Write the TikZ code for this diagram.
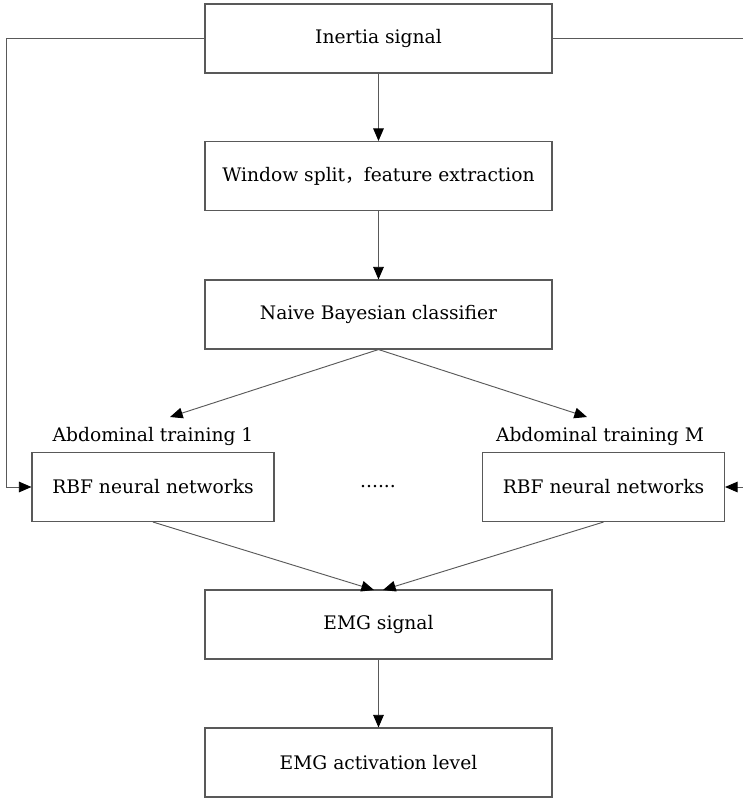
\documentclass[tikz,border=0pt]{standalone}
\usepackage{fontspec}
\setmainfont{DejaVu Serif}
\newfontfamily\cjk{Noto Sans CJK SC}
\usetikzlibrary{arrows.meta}
\begin{document}
\begin{tikzpicture}[x=0.75pt,y=-0.75pt,
  box/.style={draw=black!65,line width=0.8pt,minimum width=347*0.75pt,minimum height=69*0.75pt,inner sep=0pt,font=\fontsize{14}{16}\selectfont},
  sbox/.style={box,minimum width=242*0.75pt},
  lab/.style={font=\fontsize{14}{16}\selectfont,inner sep=0pt},
  conn/.style={draw=black!65,line width=0.7pt,-{Triangle[length=9.5pt,width=8pt,color=black]}},
  plain/.style={draw=black!65,line width=0.7pt}]
\useasboundingbox (0,0) rectangle (742,799);
\node[box] (inertia) at (378.5,38.5) {Inertia signal};
\node[box] (window) at (378.5,176) {Window split{\cjk ，}feature extraction};
\node[box] (bayes) at (378.5,314.5) {Naive Bayesian classifier};
\node[sbox] (rbf1) at (153,487) {RBF neural networks};
\node[sbox] (rbfm) at (603.5,487) {RBF neural networks};
\node[lab] (lab1) at (153,436) {Abdominal training 1};
\node[lab] (labm) at (600,436) {Abdominal training M};
\node[lab] (dots) at (378,487) {......};
\node[box] (emg) at (378.5,624.5) {EMG signal};
\node[box] (act) at (378.5,762.5) {EMG activation level};
\coordinate (l1) at (6,38.5);
\coordinate (l2) at (6,487);
\coordinate (r1) at (744,38.5);
\coordinate (r2) at (744,487);
\coordinate (t1) at (170,417);
\coordinate (tm) at (587,417);
\coordinate (e1) at (374,590);
\coordinate (em) at (383,590);
\draw[conn] (inertia) -- (window);
\draw[conn] (window) -- (bayes);
\draw[conn] (bayes.south) -- (t1);
\draw[conn] (bayes.south) -- (tm);
\draw[conn] (inertia.west) -- (l1) -- (l2) -- (rbf1.west);
\draw[conn] (inertia.east) -- (r1) -- (r2) -- (rbfm.east);
\draw[conn] (rbf1.south) -- (e1);
\draw[conn] (rbfm.south) -- (em);
\draw[conn] (emg) -- (act);
\end{tikzpicture}
\end{document}
